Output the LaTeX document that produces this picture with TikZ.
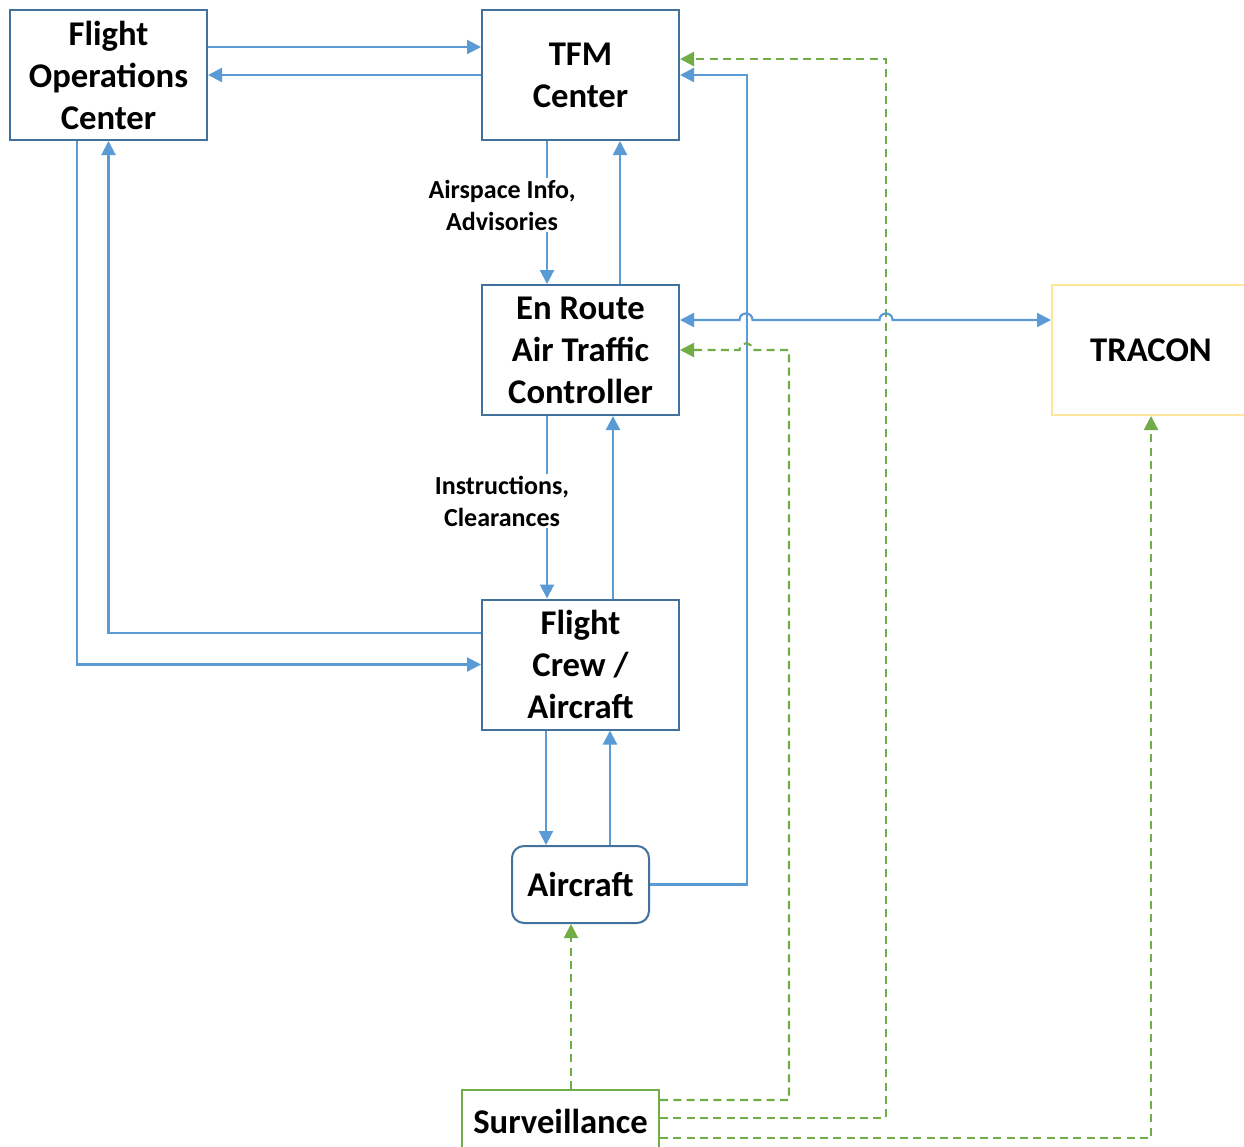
\documentclass[tikz,border=0pt]{standalone}
\usepackage{fontspec}
\setmainfont{Carlito}
\usetikzlibrary{arrows.meta,calc}
\definecolor{boxblue}{HTML}{41719C}
\definecolor{lineblue}{HTML}{5B9BD5}
\definecolor{survgreen}{HTML}{70AD47}
\definecolor{tracyellow}{HTML}{FFE699}
\tikzset{
  blk/.style={draw=boxblue, line width=1.5pt, fill=white, minimum width=197*0.75pt,
    minimum height=130*0.75pt, inner sep=0pt, align=center,
    font=\fontsize{26}{31.5}\selectfont\bfseries},
  lbl/.style={fill=white, inner xsep=1pt, inner ysep=1pt, align=center,
    font=\fontsize{19.5}{24}\selectfont\bfseries},
  arr/.style={draw=lineblue, line width=1.6pt, -{Triangle[length=10.5pt,width=10.5pt]}},
  darr/.style={draw=survgreen, line width=1.6pt, dash pattern=on 6pt off 4pt,
    -{Triangle[length=10.5pt,width=10.5pt]}},
}
\begin{document}
\begin{tikzpicture}[x=0.75pt,y=-0.75pt]
\clip (0,0) rectangle (1244,1146);
\fill[white] (0,0) rectangle (1244,1146);

% blocks
\node[blk] (foc) at (108.5,75) {Flight\\Operations\\Center};
\node[blk] (tfm) at (580.5,75) {TFM\\Center};
\node[blk] (enr) at (580.5,350) {En Route\\Air Traffic\\Controller};
\node[blk] (fc) at (580.5,664.5) {Flight\\Crew /\\Aircraft};
\node[blk, minimum width=137*0.75pt, minimum height=77*0.75pt, rounded corners=9pt] (acft) at (580.5,884.5) {Aircraft};
\node[blk, draw=tracyellow, minimum width=198*0.75pt] (tracon) at (1151,350) {TRACON};
\node[blk, draw=survgreen, minimum height=62*0.75pt] (surv) at (560.5,1121) {Surveillance};

% operations center <-> traffic flow management
\draw[arr] ($(foc.east)+(0,-28)$) -- ($(tfm.west)+(0,-28)$);
\draw[arr] (tfm.west) -- (foc.east);

% TFM <-> en route controller
\draw[arr] ($(tfm.south)+(-33.5,0)$) -- ($(enr.north)+(-33.5,0)$);
\draw[arr] ($(enr.north)+(39.5,0)$) -- ($(tfm.south)+(39.5,0)$);

% en route controller <-> flight crew
\draw[arr] ($(enr.south)+(-33.5,0)$) -- ($(fc.north)+(-33.5,0)$);
\draw[arr] ($(fc.north)+(32.5,0)$) -- ($(enr.south)+(32.5,0)$);

% operations center <-> flight crew
\draw[arr] ($(fc.west)+(0,-31.5)$) -| (foc.south);
\draw[arr] ($(foc.south)+(-31.5,0)$) |- (fc.west);

% flight crew <-> aircraft
\draw[arr] ($(fc.south)+(-34.5,0)$) -- ($(acft.north)+(-34.5,0)$);
\draw[arr] ($(acft.north)+(29.5,0)$) -- ($(fc.south)+(29.5,0)$);

% aircraft -> TFM
\draw[arr] (acft.east) -- ++(97,0) |- (tfm.east);

% surveillance feeds
\draw[darr] ($(surv.north)+(10.5,0)$) -- ($(acft.south)+(-9.5,0)$);
\draw[darr] ($(surv.east)+(0,-21)$) -| (789,350) -- (752.5,350)
  .. controls (752.5,341.3) and (739.5,341.3) .. (739.5,350) -- (enr.east);
\draw[darr] ($(surv.east)+(0,-3)$) -| (886,59) -- ($(tfm.east)+(0,-16)$);
\draw[darr] ($(surv.east)+(0,17)$) -| (tracon.south);

% en route controller <-> TRACON, hopping over crossing lines
\draw[arr, {Triangle[length=10.5pt,width=10.5pt]}-{Triangle[length=10.5pt,width=10.5pt]}]
  ($(enr.east)+(0,-30)$) -- (739.5,320)
  .. controls (739.5,311.3) and (752.5,311.3) .. (752.5,320) -- (879.5,320)
  .. controls (879.5,311.3) and (892.5,311.3) .. (892.5,320) -- ($(tracon.west)+(0,-30)$);

% connector labels
\node[lbl] (l1) at (502,205) {Airspace Info,\\Advisories};
\node[lbl] (l2) at (502,501) {Instructions,\\Clearances};
\end{tikzpicture}
\end{document}
